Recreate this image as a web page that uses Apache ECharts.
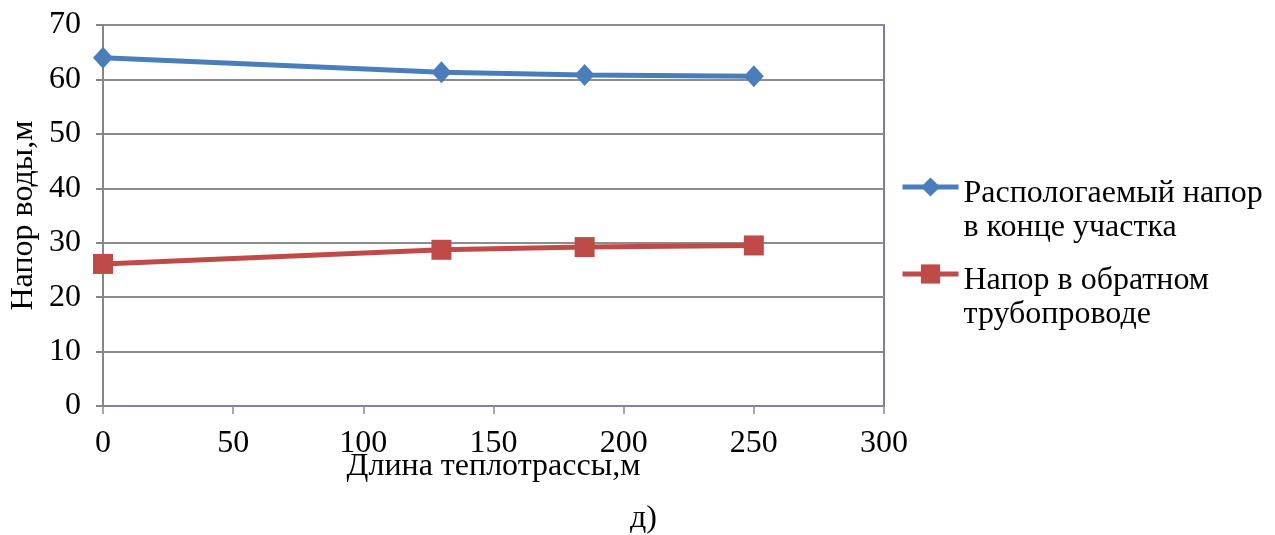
<!DOCTYPE html>
<html>
<head>
<meta charset="utf-8">
<script src="https://cdn.jsdelivr.net/npm/echarts@6/dist/echarts.min.js"></script>
<style>
  html, body { margin: 0; padding: 0; background: #ffffff; }
  #chart { width: 1275px; height: 535px; }
</style>
</head>
<body>
<div id="chart"></div>
<script>
// Длина участка теплотрассы, м
const lengths = [0, 130, 185, 250];
// Располагаемый напор в конце участка, м
const headAvailable = [64.0, 61.3, 60.8, 60.6];
// Напор в обратном трубопроводе, м
const headReturn = [26.1, 28.7, 29.2, 29.5];

const nameAvailable = 'Распологаемый напор\nв конце участка';
const nameReturn = 'Напор в обратном\nтрубопроводе';

const FONT = 'Liberation Serif';
const FS = 32;
const blue = '#4a7ebb';
const red = '#be4b48';

const pairs = (xs, ys) => xs.map((x, i) => [x, ys[i]]);

const chart = echarts.init(document.getElementById('chart'), null, { renderer: 'canvas' });

// legend label: a spacer line on top so the first text line sits beside the icon
const legendFormatter = (name) =>
  '{s| }\n' + name.split('\n').map((l) => '{a|' + l + '}').join('\n');

const legendText = {
  fontFamily: FONT,
  fontSize: FS,
  color: '#000',
  rich: {
    s: { fontSize: 10, lineHeight: 48 },
    a: { fontFamily: FONT, fontSize: FS, lineHeight: 34, color: '#000' }
  }
};

const legendCommon = {
  orient: 'vertical',
  itemWidth: 56, itemHeight: 24, itemGap: 0,
  formatter: legendFormatter,
  textStyle: legendText,
  lineStyle: { width: 5 }
};

chart.setOption({
  backgroundColor: '#ffffff',
  animation: false,
  grid: {
    left: 103, right: 391, top: 25, bottom: 129,
    show: true,
    borderColor: '#7c7ca6',
    borderWidth: 2,
    containLabel: false,
    outerBoundsMode: 'none'
  },
  legend: [
    Object.assign({ data: [nameAvailable], left: 895, top: 143 }, legendCommon),
    Object.assign({ data: [nameReturn], left: 895, top: 230 }, legendCommon)
  ],
  xAxis: {
    type: 'value',
    min: 0, max: 300, interval: 50,
    name: 'Длина теплотрассы,м',
    nameLocation: 'middle',
    nameGap: 45,
    nameMoveOverlap: false,
    nameTextStyle: { fontFamily: FONT, fontSize: FS, color: '#000' },
    axisLine: { show: true, onZero: false, lineStyle: { color: '#8282a8', width: 2 } },
    axisTick: { show: true, length: 8, lineStyle: { color: '#8a8a8a', width: 1.5 } },
    axisLabel: { fontFamily: FONT, fontSize: FS, color: '#000', margin: 22 },
    splitLine: { show: false }
  },
  yAxis: {
    type: 'value',
    min: 0, max: 70, interval: 10,
    name: 'Напор воды,м',
    nameLocation: 'middle',
    nameGap: 63,
    nameMoveOverlap: false,
    nameRotate: 90,
    nameTextStyle: { fontFamily: FONT, fontSize: FS, color: '#000' },
    axisLine: { show: true, lineStyle: { color: '#868686', width: 2 } },
    axisTick: { show: true, length: 7, lineStyle: { color: '#868686', width: 2 } },
    axisLabel: { fontFamily: FONT, fontSize: FS, color: '#000', margin: 22 },
    splitLine: { show: true, lineStyle: { color: '#8c8c8c', width: 2 } }
  },
  series: [
    {
      name: nameAvailable,
      type: 'line',
      data: pairs(lengths, headAvailable),
      symbol: 'diamond',
      symbolSize: [20, 22],
      lineStyle: { color: blue, width: 5 },
      itemStyle: { color: blue },
      z: 3
    },
    {
      name: nameReturn,
      type: 'line',
      data: pairs(lengths, headReturn),
      symbol: 'rect',
      symbolSize: 20,
      lineStyle: { color: red, width: 5 },
      itemStyle: { color: red },
      z: 3
    }
  ],
  graphic: [
    {
      type: 'text',
      left: 630, top: 503,
      style: { text: 'д)', font: FS + 'px "' + FONT + '"', fill: '#000' }
    }
  ]
});
</script>
</body>
</html>
